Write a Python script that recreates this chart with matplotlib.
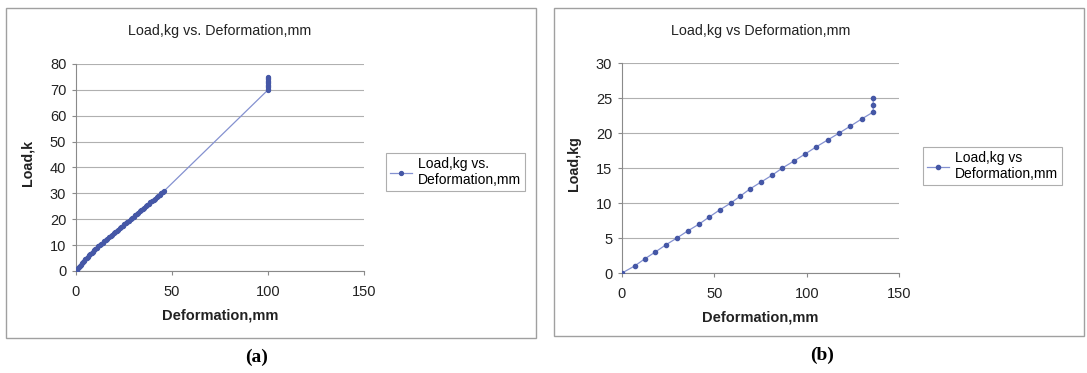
import matplotlib
matplotlib.use('Agg')
import matplotlib.pyplot as plt
from matplotlib.patches import Rectangle

# Panel (a) readings
load_a = [0, 0.5, 1, 1.5, 2, 2.5, 3, 3.5, 4, 4.5, 5, 5.5, 6, 6.5, 7, 7.5, 8, 8.5,
          9, 9.5, 10, 10.5, 11, 11.5, 12, 12.5, 13, 13.5, 14, 14.5, 15, 15.5, 16,
          16.5, 17, 17.5, 18, 18.5, 19, 19.5, 20, 20.5, 21, 21.5, 22, 22.5, 23,
          23.5, 24, 24.5, 25, 25.5, 26, 26.5, 27, 27.5, 28, 28.5, 29, 29.5, 30,
          30.5, 31, 70, 70.5, 71, 71.5, 72, 72.5, 73, 73.5, 74, 74.5, 75]
deform_a = [0, 0.5, 1.0, 1.5, 2.0, 2.5, 3.1, 3.7, 4.3, 4.9, 5.5, 6.1, 6.8, 7.4,
            8.1, 8.7, 9.4, 10.1, 10.9, 11.6, 12.4, 13.2, 14.0, 14.8, 15.6, 16.4,
            17.2, 18.0, 18.8, 19.6, 20.4, 21.2, 22.0, 22.8, 23.6, 24.4, 25.2, 26.0,
            26.8, 27.6, 28.4, 29.2, 30.0, 30.8, 31.6, 32.4, 33.2, 34.0, 34.8, 35.6,
            36.4, 37.2, 38.0, 38.8, 39.6, 40.4, 41.2, 42.0, 42.8, 43.6, 44.4, 45.2,
            46.0, 100, 100, 100, 100, 100, 100, 100, 100, 100, 100, 100]

# Panel (b) readings
load_b = [0, 1, 2, 3, 4, 5, 6, 7, 8, 9, 10, 11, 12, 13, 14, 15, 16, 17, 18, 19, 20,
          21, 22, 23, 24, 25]
deform_b = [0, 6.8, 12.2, 18.0, 23.6, 29.7, 35.5, 41.8, 47.2, 52.8, 58.9, 64.1, 69.2,
            75.3, 81.4, 86.8, 93.1, 99.1, 105.0, 111.3, 117.6, 123.7, 129.7, 136.0,
            136.0, 136.0]

LINE_COLOR = '#8491d0'
MARK_COLOR = '#4557a6'
GRID_COLOR = '#b0b0b0'
FONT = 'Liberation Sans'


def draw_panel(fig, rect, x, y, title, ylabel, yticks, legend_label, legend_pos,
               title_y, ylabel_x, msize):
    ax = fig.add_axes(rect)
    ax.plot(x, y, color=LINE_COLOR, linewidth=0.9, marker='o', markersize=msize,
            markerfacecolor=MARK_COLOR, markeredgecolor=MARK_COLOR,
            label=legend_label, zorder=3)
    ax.set_xlim(0, 150)
    ax.set_ylim(yticks[0], yticks[-1])
    ax.set_xticks([0, 50, 100, 150])
    ax.set_yticks(yticks)
    ax.yaxis.grid(True, color=GRID_COLOR, linewidth=0.8)
    ax.set_axisbelow(True)
    for s in ['top', 'right']:
        ax.spines[s].set_visible(False)
    for s in ['left', 'bottom']:
        ax.spines[s].set_color('#8a8a8a')
        ax.spines[s].set_linewidth(0.8)
    ax.tick_params(axis='both', colors='#8a8a8a', length=3, width=0.8,
                   labelcolor='#222222', labelsize=10.5)
    ax.tick_params(axis='x', pad=7)
    ax.tick_params(axis='y', pad=4)
    for lab in ax.get_xticklabels() + ax.get_yticklabels():
        lab.set_family(FONT)
    ax.set_xlabel('Deformation,mm', fontsize=10.5, fontweight='bold', family=FONT,
                  color='#222222', labelpad=7)
    ax.set_ylabel(ylabel, fontsize=10.3, fontweight='bold', family=FONT,
                  color='#222222')
    ax.yaxis.set_label_coords(ylabel_x, 0.52)
    ax.set_title(title, fontsize=10.3, family=FONT, color='#222222', y=title_y,
                 pad=0)
    leg = ax.legend(loc='center left', bbox_to_anchor=legend_pos,
                    bbox_transform=fig.transFigure, frameon=True, fancybox=False,
                    prop={'family': FONT, 'size': 10}, handlelength=1.6,
                    handletextpad=0.4, borderpad=0.3, labelspacing=0.2,
                    borderaxespad=0)
    leg.get_frame().set_edgecolor('#9a9a9a')
    leg.get_frame().set_linewidth(0.8)
    return ax


fig = plt.figure(figsize=(10.87, 3.73), dpi=100)

# panel frames
fig.add_artist(Rectangle((6 / 1087, 1 - 338 / 373), 530 / 1087, 330 / 373,
                         transform=fig.transFigure, fill=False,
                         edgecolor='#a0a0a0', linewidth=1.0))
fig.add_artist(Rectangle((554 / 1087, 1 - 336 / 373), 530 / 1087, 328 / 373,
                         transform=fig.transFigure, fill=False,
                         edgecolor='#a0a0a0', linewidth=1.0))

draw_panel(fig, [0.0699, 0.2735, 0.265, 0.555], deform_a, load_a,
           'Load,kg vs. Deformation,mm', 'Load,k', [0, 10, 20, 30, 40, 50, 60, 70, 80],
           'Load,kg vs.\nDeformation,mm', (386 / 1087, 1 - 172 / 373), 1.14, -0.145, 2.8)
draw_panel(fig, [0.5722, 0.268, 0.2549, 0.563], deform_b, load_b,
           'Load,kg vs Deformation,mm', 'Load,kg', [0, 5, 10, 15, 20, 25, 30],
           'Load,kg vs\nDeformation,mm', (923 / 1087, 1 - 166 / 373), 1.135, -0.148, 3.0)

fig.text(257 / 1087, 1 - 357 / 373, '(a)', ha='center', va='center',
         fontsize=14, fontweight='bold', family='Liberation Serif')
fig.text(822 / 1087, 1 - 355 / 373, '(b)', ha='center', va='center',
         fontsize=14, fontweight='bold', family='Liberation Serif')

fig.savefig('out.png', dpi=100)
